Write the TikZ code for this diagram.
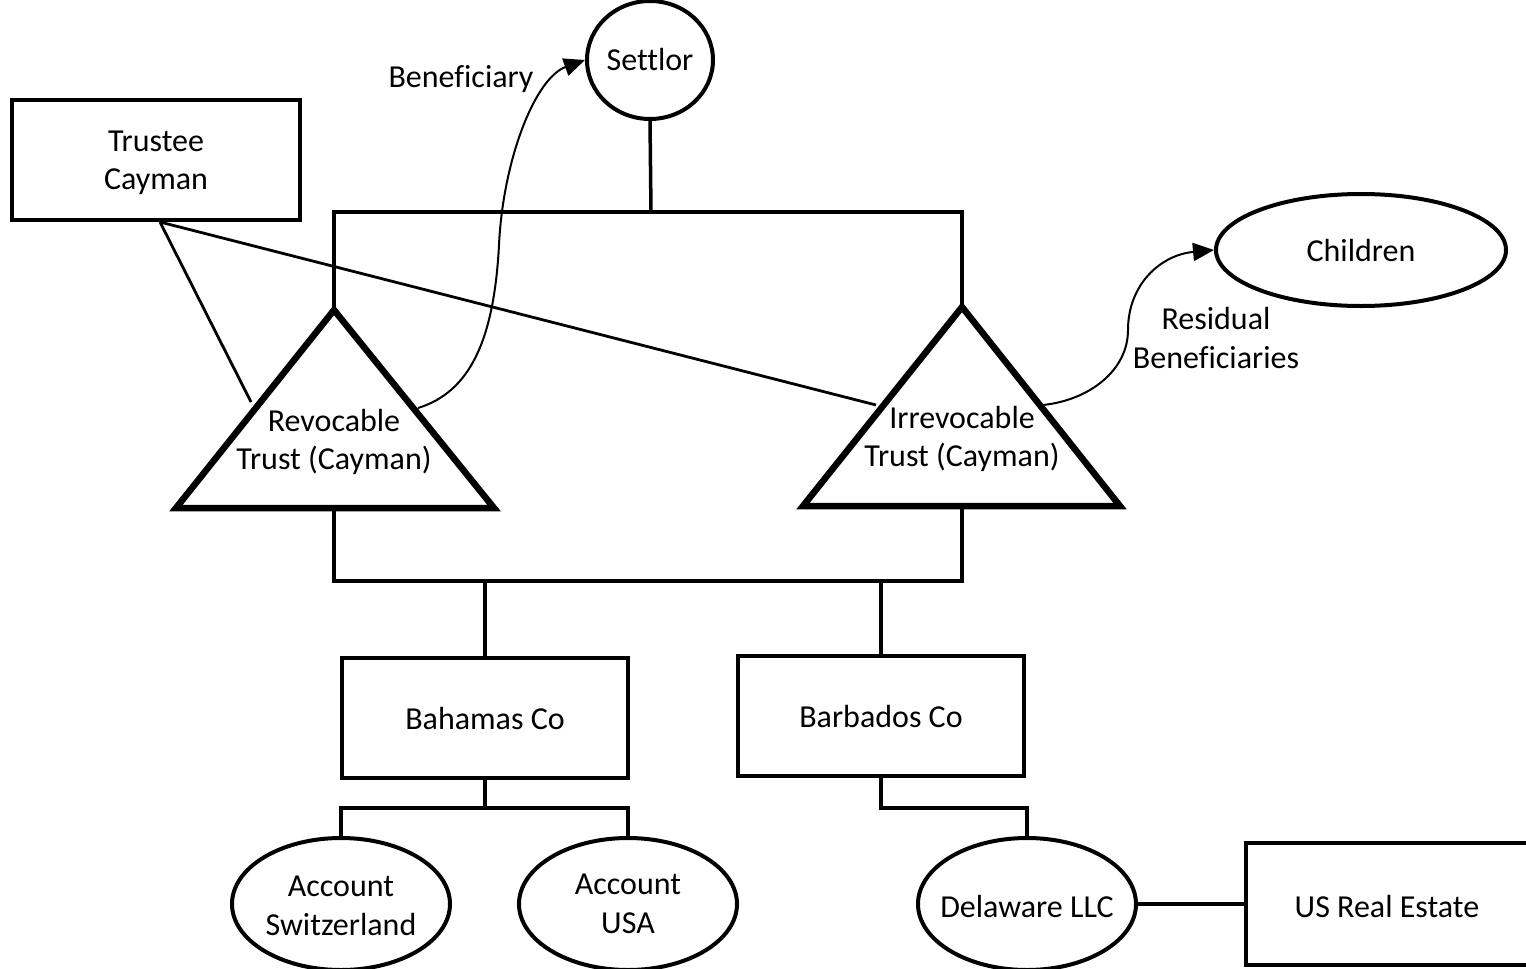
\documentclass[tikz,border=0pt]{standalone}
\usepackage{fontspec}
\setmainfont[Ligatures=NoCommon]{Carlito}
\usetikzlibrary{shapes.geometric,arrows.meta}
\tikzset{
  box/.style={draw,line width=4pt,rectangle,inner sep=0pt,align=center},
  oval/.style={draw,line width=4pt,ellipse,inner sep=0pt,align=center},
  tri/.style={draw,line width=6.5pt,line join=miter},
  conn/.style={line width=3.5pt},
  thinconn/.style={line width=2.8pt},
  curv/.style={line width=2pt,-{Triangle[length=21pt,width=18pt]}},
  lbl/.style={align=center,inner sep=0pt}
}
\begin{document}
\begin{tikzpicture}[x=1pt,y=-1pt,font=\fontsize{32}{38.5}\selectfont]
\useasboundingbox (0,0) rectangle (1526,969);
\clip (0,0) rectangle (1526,969);
% nodes
\node[oval,minimum width=126pt,minimum height=118pt] (settlor) at (650,60) {Settlor};
\node[box,minimum width=288pt,minimum height=120pt] (trustee) at (156,160) {};
\node[lbl] (trusteetext) at (156,163) {Trustee\\Cayman};
\node[oval,minimum width=290pt,minimum height=112pt] (children) at (1361,250) {Children};
\node[box,minimum width=286pt,minimum height=120pt] (bahamas) at (485,718) {Bahamas Co};
\node[box,minimum width=286pt,minimum height=120pt] (barbados) at (881,716) {Barbados Co};
\node[oval,minimum width=218pt,minimum height=132pt] (acsw) at (341,904) {};
\node[lbl] (acswtext) at (341,906) {Account\\Switzerland};
\node[oval,minimum width=218pt,minimum height=132pt] (acus) at (628,904) {};
\node[lbl] (acustext) at (628,904) {Account\\USA};
\node[oval,minimum width=218pt,minimum height=132pt] (dela) at (1027,904) {};
\node[lbl] (delatext) at (1027,906) {Delaware LLC};
\node[box,minimum width=300pt,minimum height=122pt,anchor=west] (usre) at (1244,904) {};
\node[lbl] (usretext) at (1387,906) {US Real Estate};
% triangles
\coordinate (rapex) at (334,310);
\coordinate (rbl) at (176,508);
\coordinate (rbr) at (494,508);
\coordinate (rbase) at (334,508);
\coordinate (iapex) at (962,307);
\coordinate (ibl) at (803,506);
\coordinate (ibr) at (1120,506);
\coordinate (ibase) at (962,506);
\draw[tri] (rapex) -- (rbl) -- (rbr) -- cycle;
\draw[tri] (iapex) -- (ibl) -- (ibr) -- cycle;
\node[lbl] (revtext) at (334,442) {Revocable\\Trust (Cayman)};
\node[lbl] (irrtext) at (962,439) {Irrevocable\\Trust (Cayman)};
% connectors top
\coordinate (topjoin) at (651,212);
\coordinate (topl) at (334,212);
\coordinate (topr) at (962,212);
\draw[conn] (settlor.south) -- (topjoin);
\draw[conn] (rapex) -- (topl) -- (topr) -- (iapex);
% connectors bottom
\coordinate (midl) at (334,581);
\coordinate (midr) at (962,581);
\draw[conn] (rbase) -- (midl) -- (midr) -- (ibase);
\coordinate (bahj) at (485,581);
\coordinate (barj) at (881,581);
\draw[conn] (bahj) -- (bahamas.north);
\draw[conn] (barj) -- (barbados.north);
\coordinate (bahlow) at (485,808);
\coordinate (bahl) at (341,808);
\coordinate (bahr) at (628,808);
\draw[conn] (bahamas.south) -- (bahlow);
\draw[conn] (acsw.north) -- (bahl) -- (bahr) -- (acus.north);
\coordinate (barlow) at (881,808);
\coordinate (barr) at (1027,808);
\draw[conn] (barbados.south) -- (barlow) -- (barr) -- (dela.north);
\draw[conn] (dela.east) -- (usre.west);
% trustee lines
\coordinate (trpt) at (160,222);
\coordinate (revside) at (251,402);
\coordinate (irrside) at (876,405);
\draw[thinconn] (trpt) -- (revside);
\draw[thinconn] (trpt) -- (irrside);
% curved arrows
\coordinate (benstart) at (418,408);
\coordinate (resstart) at (1043,405);
\draw[curv] (benstart) .. controls (470,392) and (494,340) .. (499,245) .. controls (503,160) and (535,78) .. (settlor.west);
\draw[curv] (resstart) .. controls (1090,400) and (1128,370) .. (1128,330) .. controls (1128,285) and (1160,255) .. (children.west);
\node[lbl] (benlbl) at (461,79) {Beneficiary};
\node[lbl] (reslbl) at (1216,338) {Residual\\Beneficiaries};
\end{tikzpicture}
\end{document}
